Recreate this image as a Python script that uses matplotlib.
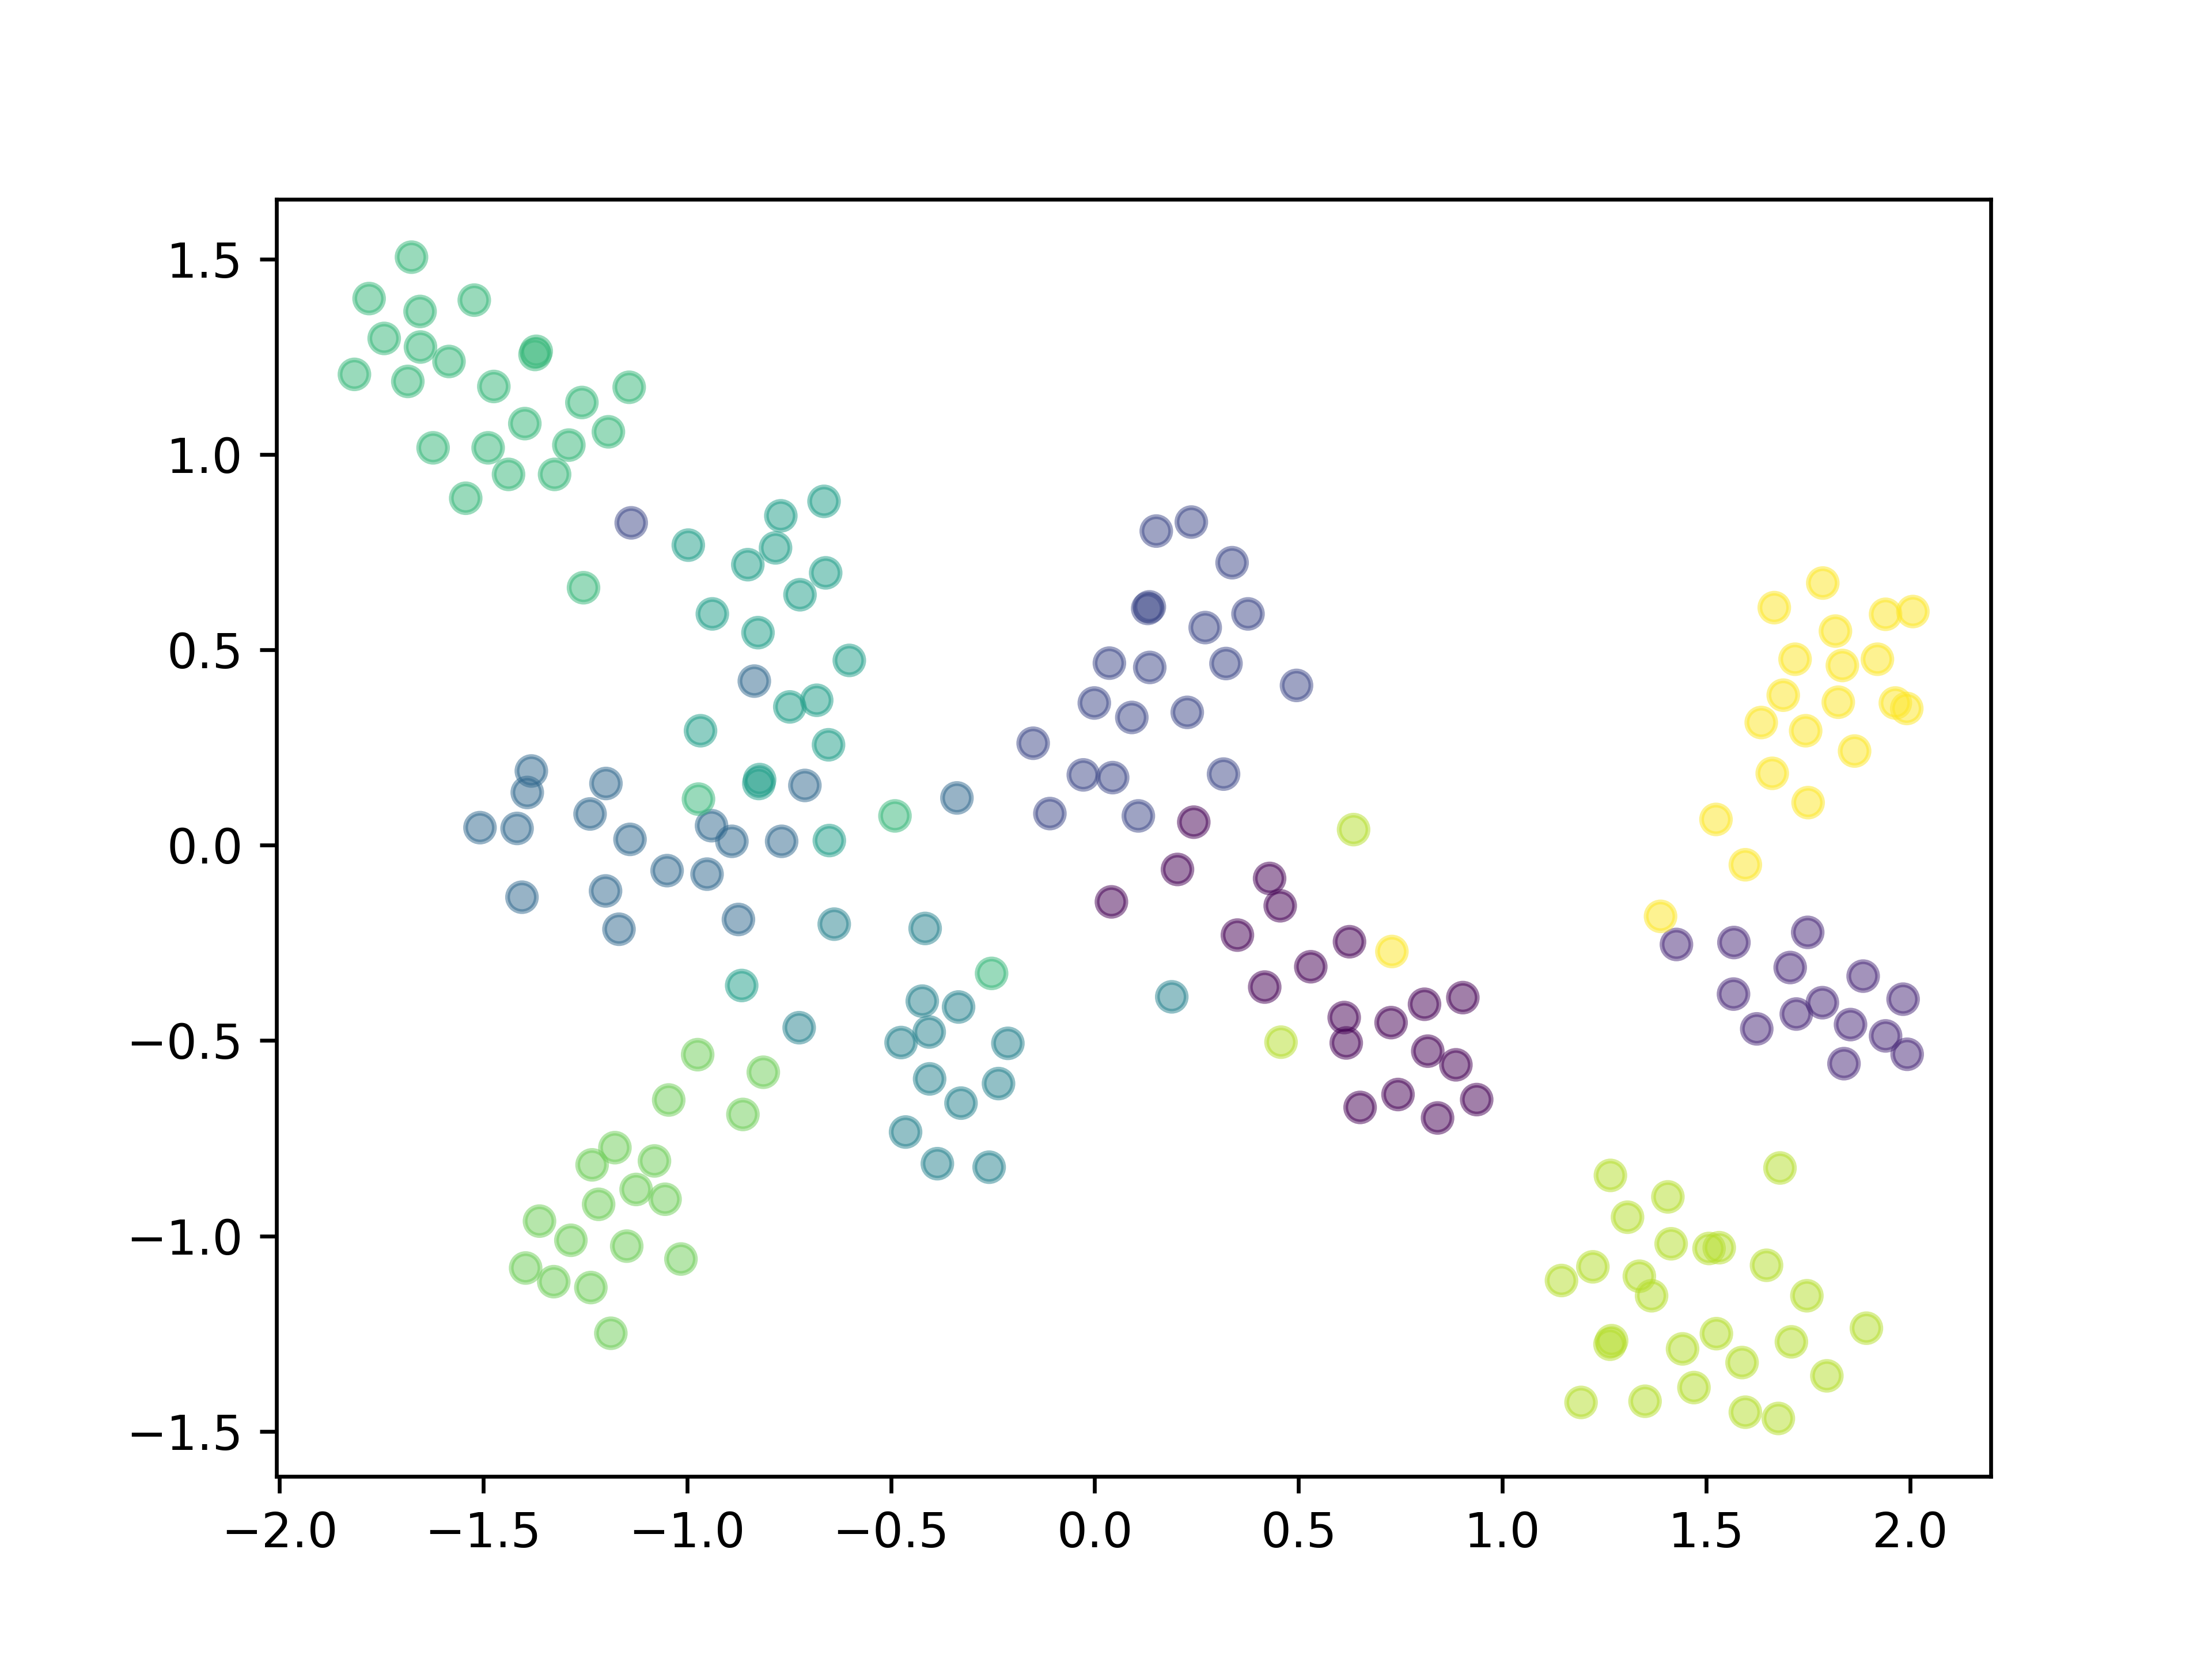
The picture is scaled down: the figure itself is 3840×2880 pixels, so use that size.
import matplotlib
matplotlib.use("Agg")
from matplotlib import pyplot as plt
import numpy as np

# points, grouped by class label (0..9, viridis)
x0 = [0.243, 0.041, 0.203, 0.429, 0.455, 0.350, 0.625, 0.530, 0.417, 0.612,
      0.617, 0.727, 0.651, 0.744, 0.809, 0.903, 0.817, 0.886, 0.937, 0.841]
y0 = [0.059, -0.145, -0.062, -0.085, -0.155, -0.230, -0.247, -0.311, -0.363, -0.441,
      -0.506, -0.454, -0.671, -0.638, -0.407, -0.390, -0.527, -0.562, -0.651, -0.698]

x1 = [1.427, 1.568, 1.749, 1.706, 1.885, 1.567, 1.983, 1.785, 1.721, 1.624,
      1.854, 1.940, 1.993, 1.838]
y1 = [-0.254, -0.249, -0.223, -0.313, -0.335, -0.381, -0.394, -0.403, -0.432, -0.470,
      -0.459, -0.488, -0.535, -0.559]

x2 = [0.151, 0.237, 0.337, 0.130, 0.134, 0.376, 0.271, 0.036, 0.135, 0.322,
      0.495, -0.001, 0.091, 0.227, -0.151, -0.028, 0.044, 0.316, -0.110, 0.107,
      -1.137]
y2 = [0.804, 0.827, 0.723, 0.606, 0.610, 0.592, 0.557, 0.466, 0.455, 0.465,
      0.409, 0.364, 0.327, 0.340, 0.261, 0.180, 0.173, 0.182, 0.081, 0.075,
      0.825]

x3 = [-1.382, -1.392, -1.199, -1.238, -1.508, -1.417, -1.140, -0.940, -0.890, -0.768,
      -0.711, -0.835, -1.405, -1.200, -1.167, -1.049, -0.951, -0.874, -0.338]
y3 = [0.190, 0.135, 0.158, 0.080, 0.045, 0.043, 0.015, 0.050, 0.010, 0.010,
      0.153, 0.420, -0.133, -0.117, -0.215, -0.065, -0.074, -0.190, 0.121]

x4 = [-0.416, -0.423, -0.334, -0.406, -0.475, -0.213, -0.405, -0.236, -0.328, -0.464,
      -0.386, -0.259, 0.189, -0.725, -0.639]
y4 = [-0.213, -0.399, -0.414, -0.478, -0.505, -0.507, -0.598, -0.610, -0.660, -0.734,
      -0.815, -0.824, -0.388, -0.467, -0.202]

x5 = [-0.664, -0.770, -0.997, -0.783, -0.851, -0.660, -0.723, -0.938, -0.826, -0.602,
      -0.748, -0.682, -0.967, -0.653, -0.822, -0.824, -0.651, -0.866]
y5 = [0.880, 0.843, 0.768, 0.761, 0.718, 0.697, 0.641, 0.592, 0.544, 0.473,
      0.354, 0.371, 0.293, 0.257, 0.168, 0.158, 0.012, -0.359]

x6 = [-1.676, -1.780, -1.522, -1.655, -1.743, -1.654, -1.584, -1.370, -1.373, -1.816,
      -1.685, -1.474, -1.142, -1.258, -1.398, -1.193, -1.623, -1.488, -1.290, -1.438,
      -1.325, -1.543, -1.254, -0.972, -0.253, -0.490]
y6 = [1.505, 1.399, 1.395, 1.366, 1.297, 1.275, 1.238, 1.264, 1.256, 1.205,
      1.187, 1.174, 1.172, 1.133, 1.079, 1.058, 1.017, 1.017, 1.024, 0.949,
      0.949, 0.888, 0.659, 0.118, -0.328, 0.075]

x7 = [-0.974, -0.813, -1.045, -0.863, -1.177, -1.233, -1.080, -1.125, -1.217, -1.054,
      -1.362, -1.285, -1.148, -1.015, -1.396, -1.327, -1.236, -1.187]
y7 = [-0.536, -0.581, -0.652, -0.689, -0.774, -0.818, -0.808, -0.881, -0.919, -0.906,
      -0.962, -1.011, -1.026, -1.059, -1.082, -1.117, -1.132, -1.249]

x8 = [1.681, 1.265, 1.406, 1.307, 1.414, 1.507, 1.532, 1.648, 1.222, 1.145,
      1.336, 1.366, 1.747, 1.893, 1.268, 1.264, 1.525, 1.442, 1.709, 1.588,
      1.796, 1.470, 1.193, 1.350, 1.596, 1.677, 0.635, 0.457]
y8 = [-0.826, -0.845, -0.900, -0.952, -1.020, -1.032, -1.030, -1.075, -1.079, -1.114,
      -1.103, -1.153, -1.153, -1.236, -1.268, -1.277, -1.250, -1.289, -1.271, -1.324,
      -1.358, -1.388, -1.426, -1.423, -1.451, -1.467, 0.040, -0.504]

x9 = [1.786, 1.667, 1.940, 2.007, 1.817, 1.718, 1.834, 1.920, 1.689, 1.824,
      1.964, 1.992, 1.635, 1.744, 1.864, 1.662, 1.750, 1.524, 1.596, 1.388,
      0.729]
y9 = [0.671, 0.608, 0.591, 0.598, 0.548, 0.476, 0.460, 0.476, 0.384, 0.366,
      0.364, 0.350, 0.314, 0.293, 0.241, 0.184, 0.109, 0.066, -0.050, -0.182,
      -0.272]

xs = [x0, x1, x2, x3, x4, x5, x6, x7, x8, x9]
ys = [y0, y1, y2, y3, y4, y5, y6, y7, y8, y9]

x = np.concatenate([np.array(v) for v in xs])
y = np.concatenate([np.array(v) for v in ys])
labels = np.concatenate([np.full(len(v), i) for i, v in enumerate(xs)])

plt.figure(figsize=(6.4, 4.8), dpi=600)
plt.scatter(x, y, c=labels, cmap="viridis", alpha=0.5)

plt.savefig("out.png", dpi=600)
